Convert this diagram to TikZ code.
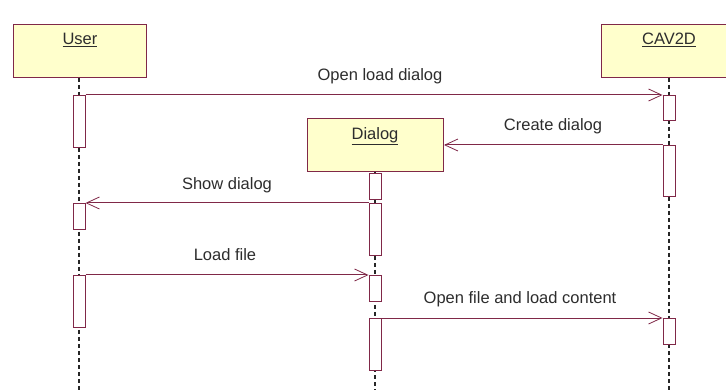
\documentclass[tikz,border=0pt]{standalone}
\usepackage{fontspec}
\setmainfont{Liberation Sans}
\usetikzlibrary{arrows.meta}
\definecolor{umlline}{RGB}{128,40,72}
\definecolor{umlfill}{RGB}{255,255,204}
\definecolor{umltext}{RGB}{45,45,45}
\begin{document}
\begin{tikzpicture}[x=1pt,y=-1pt,
  every node/.style={text=umltext, font=\fontsize{16.5}{19}\selectfont},
  objbox/.style={draw=umlline, fill=umlfill, line width=1pt, rectangle,
    minimum height=53pt, inner sep=0pt, anchor=north west},
  objname/.style={anchor=north, inner sep=0pt},
  actbar/.style={draw=umlline, fill=white, line width=1pt, rectangle,
    minimum width=12pt, inner sep=0pt, anchor=north},
  lifeline/.style={draw=black!85, line width=1.1pt, dash pattern=on 4pt off 3pt},
  msg/.style={draw=umlline, line width=1pt,
    -{Straight Barb[length=13pt,width=12pt,line width=0.8pt]}},
  msglabel/.style={anchor=base, inner sep=0pt}]
\useasboundingbox (0,0) rectangle (726,390);
\fill[white] (0,0) rectangle (726,390);

% objects
\node[objbox, minimum width=133pt] (user) at (13,24) {};
\node[objname] (usern) at (80,33) {\underline{User}};
\node[objbox, minimum width=126pt] (cav) at (601,24) {};
\node[objname] (cavn) at (669,33) {\underline{CAV2D}};
\node[objbox, minimum width=136pt] (dlg) at (307,118) {};
\node[objname] (dlgn) at (375,127) {\underline{Dialog}};

% lifeline ends
\coordinate (uend) at (79,390);
\coordinate (cend) at (669,390);
\coordinate (dend) at (375,390);

% lifelines
\draw[lifeline] (user.south -| uend) -- (uend);
\draw[lifeline] (cav.south -| cend) -- (cend);
\draw[lifeline] (dlg.south -| dend) -- (dend);

% activation bars
\node[actbar, minimum height=52pt] (u1) at (79,95) {};
\node[actbar, minimum height=26pt] (u2) at (79,203) {};
\node[actbar, minimum height=52pt] (u3) at (79,275) {};
\node[actbar, minimum height=25pt] (c1) at (669,95) {};
\node[actbar, minimum height=51pt] (c2) at (669,145) {};
\node[actbar, minimum height=26pt] (c3) at (669,318) {};
\node[actbar, minimum height=26pt] (d1) at (375,173) {};
\node[actbar, minimum height=52pt] (d2) at (375,203) {};
\node[actbar, minimum height=26pt] (d3) at (375,275) {};
\node[actbar, minimum height=52pt] (d4) at (375,318) {};

% messages
\draw[msg] (u1.north east) -- (c1.north west);
\node[msglabel] (m1) at (380,81) {Open load dialog};
\draw[msg] (c2.north west) -- (c2.north west -| dlg.east);
\node[msglabel] (m2) at (553,131) {Create dialog};
\draw[msg] (d2.north west) -- (u2.north east);
\node[msglabel] (m3) at (227,190) {Show dialog};
\draw[msg] (u3.north east) -- (d3.north west);
\node[msglabel] (m4) at (225,261) {Load file};
\draw[msg] (d4.north east) -- (c3.north west);
\node[msglabel] (m5) at (520,304) {Open file and load content};
\end{tikzpicture}
\end{document}
